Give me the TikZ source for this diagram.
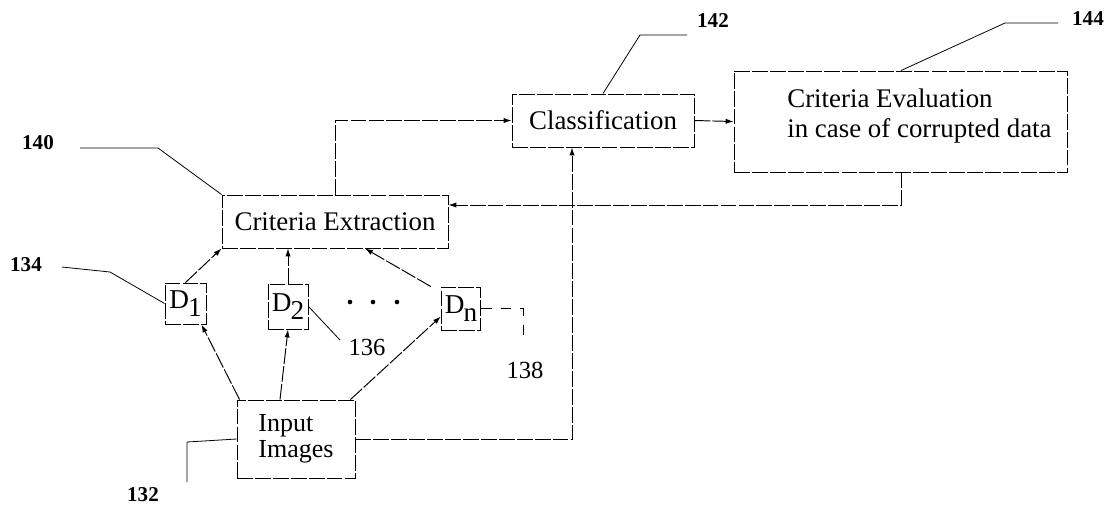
\documentclass[tikz,border=0pt]{standalone}
\usepackage{fontspec}
\setmainfont{Liberation Serif}
\usetikzlibrary{arrows.meta}

\newcommand{\dsub}[1]{D\kern-0.5pt\raisebox{-4.5pt}{#1}}

\tikzset{
  blockbox/.style={draw, dash pattern=on 9pt off 1.2pt, line width=0.55pt, inner sep=2pt,
    font=\fontsize{15.3}{17.6}\selectfont},
  conn/.style={dash pattern=on 9pt off 1.2pt, line width=0.55pt, -{Latex[length=4.5pt,width=3pt]}},
  leader/.style={line width=0.45pt},
  refbold/.style={font=\fontsize{12}{14}\selectfont\bfseries},
  refplain/.style={font=\fontsize{14}{16}\selectfont}
}

\begin{document}
\begin{tikzpicture}[x=0.02cm,y=-0.02cm]
\useasboundingbox (0,0) rectangle (1115,508);

\node[blockbox, minimum width=4.52cm, minimum height=1.06cm] (ext) at (335,221.5) {Criteria Extraction};
\node[blockbox, minimum width=3.64cm, minimum height=1.06cm] (cls) at (603,120.5) {Classification};
\node[blockbox, minimum width=6.68cm, minimum height=2.02cm] (eval) at (901,121.5) {};
\node[font=\fontsize{15.3}{17.6}\selectfont, align=left, anchor=west, inner sep=0pt] (evaltxt) at (787,116) {Criteria Evaluation\\in case of corrupted data};
\node[blockbox, minimum width=2.36cm, minimum height=1.56cm, align=left, font=\fontsize{14.8}{15}\selectfont] (inp) at (296,439) {Input\\Images};

\node[blockbox, minimum width=0.82cm, minimum height=0.82cm, font=\fontsize{15.5}{17}\selectfont] (d1) at (185.5,303.5) {\dsub{1}};
\node[blockbox, minimum width=0.80cm, minimum height=0.90cm, font=\fontsize{15.5}{17}\selectfont] (d2) at (288,306.5) {\dsub{2}};
\node[blockbox, minimum width=0.76cm, minimum height=0.86cm, font=\fontsize{15.5}{17}\selectfont] (dn) at (461,308.5) {\dsub{n}};
\foreach \x in {350,373,397} \fill (\x,302) circle (2.3);

\draw[conn] (ext.north) |- (cls.west);
\draw[conn] (cls.east) -- (eval.west);
\draw[conn] (eval.south) |- ([yshift=0.33cm]ext.east);
\draw[conn] (inp.east) -| ([xshift=-0.62cm]cls.south);

\draw[conn] ([xshift=0.06cm]inp.north west) -- ([xshift=-0.1cm]d1.south east);
\draw[conn] ([xshift=-0.32cm]inp.north) -- (d2.south);
\draw[conn] ([xshift=-0.1cm]inp.north east) -- ([yshift=-0.16cm]dn.west);
\draw[conn] (d1.north) -- (ext.south west);
\draw[conn] (d2.north) -- (d2.north |- ext.south);
\draw[conn] ([xshift=-0.2cm]dn.north west) -- ([xshift=0.6cm]ext.south);

\node[refbold] (n140) at (38,143) {140};
\node[refbold] (n134) at (26,265) {134};
\node[refbold] (n132) at (143,495) {132};
\node[refbold] (n142) at (713,21) {142};
\node[refbold] (n144) at (1088,19) {144};
\node[refplain] (n136) at (367,347) {136};
\node[refplain] (n138) at (525,370) {138};

\coordinate (l140) at (80,148);
\coordinate (l134) at (62,267);
\coordinate (l132) at (187,482);
\coordinate (l136) at (340,340);
\coordinate (l138) at (523,340);
\coordinate (l142) at (687,35);
\coordinate (l144) at (1058,23);

\draw[leader] (l140) -- (158,148) -- (ext.north west);
\draw[leader] (l134) -- (110,272) -- (d1.west);
\draw[leader] (inp.west) -- (187,442) -- (l132);
\draw[leader] (d2.east) -- (l136);
\draw[leader, dash pattern=on 6pt off 5pt] (dn.east) -- (523,308.5) -- (l138);
\draw[leader] (cls.north) -- (640,35) -- (l142);
\draw[leader] (eval.north) -- (1005,23) -- (l144);
\end{tikzpicture}
\end{document}
